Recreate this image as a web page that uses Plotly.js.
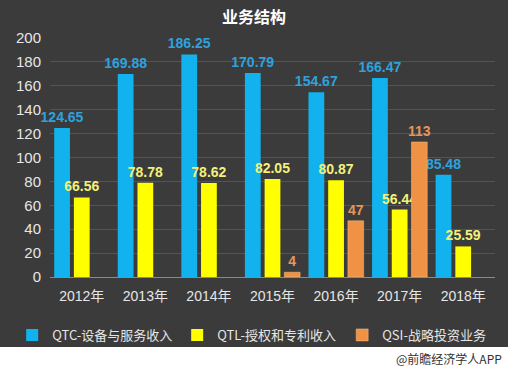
<!DOCTYPE html>
<html>
<head>
<meta charset="utf-8">
<script src="https://cdn.plot.ly/plotly-3.0.1.min.js"></script>
<style>html,body{margin:0;padding:0;background:#fff;}#chart{width:508px;height:370px;}</style>
</head>
<body>
<div id="chart"></div>
<script>
const years = ['2012年','2013年','2014年','2015年','2016年','2017年','2018年'];
const qtc = [124.65,169.88,186.25,170.79,154.67,166.47,85.48];
const qtl = [66.56,78.78,78.62,82.05,80.87,56.44,25.59];
const qsi = [null,null,null,4,47,113,null];
const names = ['QTC-设备与服务收入','QTL-授权和专利收入','QSI-战略投资业务'];
const yTicks = [0,20,40,60,80,100,120,140,160,180,200];

const FONT = 'Liberation Sans, Arial, Noto Sans CJK SC, sans-serif';
function fmt(v, d){ return v == null ? '' : (d ? v.toFixed(2) : String(v)); }

const traces = [
  {type:'bar', x:years, y:qtc, name:names[0], marker:{color:'#12b2ee'},
   text:qtc.map(v=>fmt(v,true)), textposition:'outside', constraintext:'none', cliponaxis:false,
   textfont:{color:'#2fa2de', size:14, family:FONT, weight:'bold'}},
  {type:'bar', x:years, y:qtl, name:names[1], marker:{color:'#ffff00'},
   text:qtl.map(v=>fmt(v,true)), textposition:'outside', constraintext:'none', cliponaxis:false,
   textfont:{color:'#f2f27a', size:14, family:FONT, weight:'bold'}},
  {type:'bar', x:years, y:qsi, name:names[2], marker:{color:'#ef9245', line:{color:'#f7c08a', width:0.5}},
   text:qsi.map(v=>fmt(v,false)), textposition:'outside', constraintext:'none', cliponaxis:false,
   textfont:{color:'#e4965a', size:14, family:FONT, weight:'bold'}}
];

const layout = {
  width:508, height:370,
  paper_bgcolor:'#3b3b3b', plot_bgcolor:'rgba(0,0,0,0)',
  margin:{l:50, r:13, t:38, b:93, autoexpand:false},
  title:{text:'<b>业务结构</b>', x:0.5, xanchor:'center', y:0.952, yanchor:'middle',
         font:{family:'Noto Sans CJK SC, sans-serif', size:16, color:'#ffffff'}},
  barmode:'group', bargap:0.07, bargroupgap:0.2,
  xaxis:{tickfont:{family:FONT, size:14, color:'#e6e6e6'}, showline:true, linecolor:'#8a8a8a',
         linewidth:1, ticks:'', showgrid:false, ticklabelstandoff:6},
  yaxis:{range:[0,200], tickvals:yTicks, tickfont:{family:FONT, size:15, color:'#e6e6e6'},
         showgrid:true, gridcolor:'#545454', gridwidth:1, zeroline:false, showline:false, ticks:'',
         ticklabelstandoff:8},
  showlegend:true,
  legend:{orientation:'h', x:-0.085, xanchor:'left', y:(277-320)/239, yanchor:'top',
          font:{family:'Noto Sans CJK SC, '+FONT, size:13, color:'#e6e6e6'},
          itemwidth:30, entrywidth:120, entrywidthmode:'pixels', traceorder:'normal', bgcolor:'rgba(0,0,0,0)'},
  shapes:[{type:'rect', xref:'paper', yref:'paper', x0:-0.2, x1:1.1,
           y0:-(370-277)/239 - 0.01, y1:(277-347)/239, fillcolor:'#ffffff', line:{width:0}, layer:'above'}],
  annotations:[{text:'@前瞻经济学人APP', xref:'paper', yref:'paper', x:1.02, xanchor:'right',
                y:(277-358)/239, yanchor:'middle', showarrow:false,
                font:{family:'Noto Sans CJK SC, sans-serif', size:12, color:'#333333'}}]
};

Plotly.newPlot('chart', traces, layout, {displayModeBar:false, staticPlot:true});
</script>
</body>
</html>
